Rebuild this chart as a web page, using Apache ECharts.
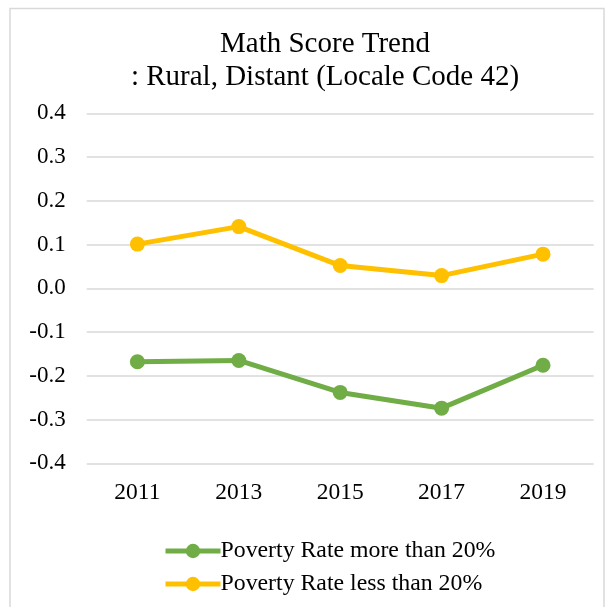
<!DOCTYPE html>
<html>
<head>
<meta charset="utf-8">
<script src="https://cdn.jsdelivr.net/npm/echarts@6/dist/echarts.min.js"></script>
<style>
  html, body { margin: 0; padding: 0; background: #fff; }
  #chart { width: 613px; height: 607px; }
</style>
</head>
<body>
<div id="chart"></div>
<script>
// Survey years on the category axis
const years = ['2011', '2013', '2015', '2017', '2019'];

// Math score trend by school poverty rate
const povertyMoreThan20 = [-0.168, -0.165, -0.238, -0.274, -0.176];
const povertyLessThan20 = [0.101, 0.141, 0.052, 0.029, 0.078];

const seriesNames = ['Poverty Rate more than 20%', 'Poverty Rate less than 20%'];
const titleLines = ['Math Score Trend', ': Rural, Distant (Locale Code 42)'];

const FONT = '"Liberation Serif", "Times New Roman", serif';
const GREEN = '#70AD47';
const GOLD = '#FFC000';

const chart = echarts.init(document.getElementById('chart'), null, { renderer: 'canvas' });

function lineSeries(name, data, color) {
  return {
    name: name,
    type: 'line',
    data: data,
    symbol: 'circle',
    symbolSize: 15,
    lineStyle: { color: color, width: 5 },
    itemStyle: { color: color },
    emphasis: { disabled: true },
    animation: false
  };
}

chart.setOption({
  backgroundColor: '#fff',
  animation: false,
  title: {
    text: titleLines.join('\n'),
    // both lines are centred on x = 320
    left: 320,
    textAlign: 'center',
    top: 23,
    textStyle: {
      fontFamily: FONT,
      fontWeight: 'normal',
      fontSize: 29,
      lineHeight: 33,
      color: '#000'
    }
  },
  graphic: [{
    type: 'rect',
    shape: { x: 10, y: 8.5, width: 594, height: 620 },
    style: { fill: 'none', stroke: '#D9D9D9', lineWidth: 1.5 },
    silent: true,
    z: -1
  }],
  legend: {
    orient: 'vertical',
    left: 158,
    top: 534,
    itemWidth: 55,
    itemHeight: 18,
    itemGap: 9,
    lineStyle: { width: 5 },
    data: seriesNames,
    textStyle: { fontFamily: FONT, fontSize: 23.8, color: '#000', padding: [0, 0, 0, -5] }
  },
  grid: { left: 86.7, right: 19.3, top: 113.3, bottom: 143.7 },
  xAxis: {
    type: 'category',
    data: years,
    boundaryGap: true,
    axisLine: { show: false },
    axisTick: { show: false },
    axisLabel: { fontFamily: FONT, fontSize: 23.5, color: '#000', margin: 18 }
  },
  yAxis: {
    type: 'value',
    min: -0.4,
    max: 0.4,
    interval: 0.1,
    axisLine: { show: false },
    axisTick: { show: false },
    splitLine: { lineStyle: { color: '#D9D9D9', width: 1.5 } },
    axisLabel: {
      fontFamily: FONT,
      fontSize: 23,
      color: '#000',
      margin: 21,
      formatter: v => v.toFixed(1)
    }
  },
  series: [
    lineSeries(seriesNames[0], povertyMoreThan20, GREEN),
    lineSeries(seriesNames[1], povertyLessThan20, GOLD)
  ]
});
</script>
</body>
</html>
